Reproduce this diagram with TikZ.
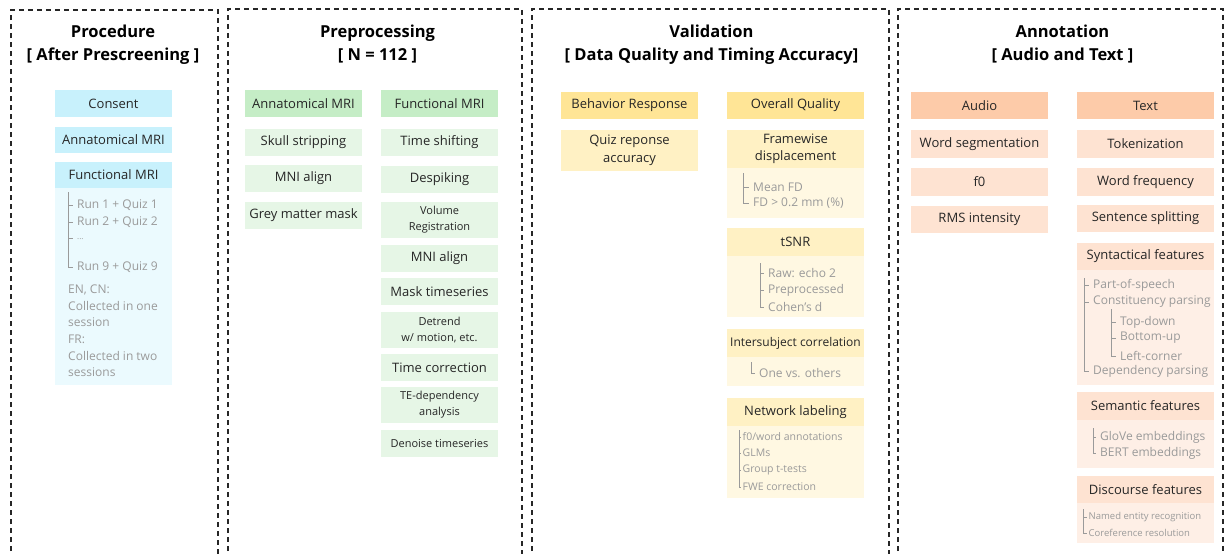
\documentclass[tikz,border=0pt]{standalone}
\usepackage{fontspec}
\setmainfont{Open Sans}
\usepackage{tikz}

\definecolor{bluehead}{HTML}{C8F1FC}
\definecolor{bluebody}{HTML}{EBFAFE}
\definecolor{greenhead}{HTML}{C5EDC6}
\definecolor{greenitem}{HTML}{E6F6E6}
\definecolor{yellowhead}{HTML}{FFE596}
\definecolor{yellowitem}{HTML}{FFF1C4}
\definecolor{yellowbody}{HTML}{FFF8E2}
\definecolor{orangehead}{HTML}{FDCBA9}
\definecolor{orangeitem}{HTML}{FEE3D2}
\definecolor{orangebody}{HTML}{FEEFE6}
\definecolor{subgrey}{HTML}{9A9A9A}

\begin{document}
\begin{tikzpicture}[x=1pt, y=-1pt,
			panel_style/.style={draw=black!85, line width=1.2pt, dash pattern=on 5pt off 4pt},
			title_style/.style={align=center, inner sep=0pt, font=\fontsize{16.5}{23}\selectfont\bfseries},
			box_style/.style={rectangle, inner sep=0pt, align=center, text=black!85, font=\fontsize{13}{17}\selectfont},
			narrow_box/.style={box_style, minimum width=117},
			wide_box/.style={box_style, minimum width=137},
			small_text/.style={font=\fontsize{11}{16}\selectfont},
			sub_item/.style={anchor=west, inner xsep=4pt, inner ysep=0pt, text=subgrey, font=\fontsize{12}{16}\selectfont},
			tiny_item/.style={sub_item, inner xsep=1.5pt, font=\fontsize{10.5}{14}\selectfont},
			tree_style/.style={draw=subgrey, line width=0.8pt}]
			\useasboundingbox (0,0) rectangle (1232,554);
			% dashed panels
			\draw[panel_style] (11,560) |- (218,10) -- (218,560);
			\draw[panel_style] (228,560) |- (522,9) -- (522,560);
			\draw[panel_style] (532,560) |- (889,9) -- (889,560);
			\draw[panel_style] (898,560) |- (1223,9) -- (1223,560);
			% titles
			\node[title_style] (t_proc) at (113,44.5) {Procedure\\{[} After Prescreening ]};
			\node[title_style] (t_prep) at (377.5,44.5) {Preprocessing\\{[} N = 112 ]};
			\node[title_style] (t_valid) at (711.5,44.5) {Validation\\{[} Data Quality and Timing Accuracy]};
			\node[title_style] (t_annot) at (1062.5,44.5) {Annotation\\{[} Audio and Text ]};
			% procedure
			\node[narrow_box, fill=bluehead, minimum height=27] (consent) at (113.5,103.5) {Consent};
			\node[narrow_box, fill=bluehead, minimum height=26] (anat1) at (113.5,140) {Annatomical MRI};
			\node[narrow_box, fill=bluehead, minimum height=26] (func1) at (113.5,175) {Functional MRI};
			\node[narrow_box, fill=bluebody, minimum height=197] (func1_body) at (113.5,286.5) {};
			\coordinate (run_top) at (68,192);
			\node[sub_item] (run1) at (73,205) {Run 1 + Quiz 1};
			\node[sub_item] (run2) at (73,222) {Run 2 + Quiz 2};
			\node[sub_item] (run_dots) at (73,238) {\fontsize{8}{8}\selectfont\raisebox{-3pt}{...}};
			\node[sub_item] (run9) at (73,267) {Run 9 + Quiz 9};
			\draw[tree_style] (run_top) |- (run9.west);
			\draw[tree_style] (run_top |- run1.west) -- (run1.west);
			\draw[tree_style] (run_top |- run2.west) -- (run2.west);
			\draw[tree_style] (run_top |- run_dots.west) -- (run_dots.west);
			\node[sub_item, inner xsep=0pt, align=left, font=\fontsize{12}{16.6}\selectfont] (lang) at (68,331) {EN, CN:\\Collected in one\\session\\FR:\\Collected in two\\sessions};
			% preprocessing
			\node[narrow_box, fill=greenhead, minimum height=27] (anat2) at (303.5,103.5) {Annatomical MRI};
			\node[narrow_box, fill=greenitem, minimum height=27] (skull) at (303.5,142.5) {Skull stripping};
			\node[narrow_box, fill=greenitem, minimum height=27] (mni_a) at (303.5,178.5) {MNI align};
			\node[narrow_box, fill=greenitem, minimum height=27] (grey) at (303.5,215.5) {Grey matter mask};
			\node[narrow_box, fill=greenhead, minimum height=27] (func2) at (439.5,103.5) {Functional MRI};
			\node[narrow_box, fill=greenitem, minimum height=27] (tshift) at (439.5,142.5) {Time shifting};
			\node[narrow_box, fill=greenitem, minimum height=27] (despike) at (439.5,179.5) {Despiking};
			\node[narrow_box, fill=greenitem, minimum height=36, small_text] (volreg) at (439.5,220) {Volume\\Registration};
			\node[narrow_box, fill=greenitem, minimum height=27] (mni_f) at (439.5,258.5) {MNI align};
			\node[narrow_box, fill=greenitem, minimum height=27] (mask) at (439.5,291.5) {Mask timeseries};
			\node[narrow_box, fill=greenitem, minimum height=36, small_text] (detrend) at (439.5,330) {Detrend\\w/ motion, etc.};
			\node[narrow_box, fill=greenitem, minimum height=27] (tcorr) at (439.5,367.5) {Time correction};
			\node[narrow_box, fill=greenitem, minimum height=36, small_text] (tedep) at (439.5,405) {TE-dependency\\analysis};
			\node[narrow_box, fill=greenitem, minimum height=27, small_text] (denoise) at (439.5,443.5) {Denoise timeseries};
			% validation
			\node[wide_box, fill=yellowhead, minimum height=27] (behav) at (629.5,105.5) {Behavior Response};
			\node[wide_box, fill=yellowitem, minimum height=41, font=\fontsize{13}{18}\selectfont] (quiz) at (629.5,150.5) {Quiz reponse\\accuracy};
			\node[wide_box, fill=yellowhead, minimum height=27] (overall) at (795.5,105.5) {Overall Quality};
			\node[wide_box, fill=yellowitem, minimum height=38, font=\fontsize{13}{16.5}\selectfont] (fd_head) at (795.5,149) {Framewise\\displacement};
			\node[wide_box, fill=yellowbody, minimum height=50] (fd_body) at (795.5,193) {};
			\coordinate (fd_top) at (743,173);
			\node[sub_item] (fd1) at (749,187) {Mean FD};
			\node[sub_item] (fd2) at (749,203) {FD > 0.2 mm (\%)};
			\draw[tree_style] (fd_top) |- (fd2.west);
			\draw[tree_style] (fd_top |- fd1.west) -- (fd1.west);
			\node[wide_box, fill=yellowitem, minimum height=28] (tsnr_head) at (795.5,242) {tSNR};
			\node[wide_box, fill=yellowbody, minimum height=61] (tsnr_body) at (795.5,286.5) {};
			\coordinate (tsnr_top) at (760,263);
			\node[sub_item] (tsnr1) at (764,273) {Raw: echo 2};
			\node[sub_item] (tsnr2) at (764,290) {Preprocessed};
			\node[sub_item] (tsnr3) at (764,307) {Cohen's d};
			\draw[tree_style] (tsnr_top) |- (tsnr3.west);
			\draw[tree_style] (tsnr_top |- tsnr1.west) -- (tsnr1.west);
			\draw[tree_style] (tsnr_top |- tsnr2.west) -- (tsnr2.west);
			\node[wide_box, fill=yellowitem, minimum height=28, font=\fontsize{12}{16}\selectfont] (isc_head) at (795.5,343) {Intersubject correlation};
			\node[wide_box, fill=yellowbody, minimum height=29] (isc_body) at (795.5,371.5) {};
			\coordinate (isc_top) at (751,362);
			\node[sub_item] (isc1) at (755,373) {One vs. others};
			\draw[tree_style] (isc_top) |- (isc1.west);
			\node[wide_box, fill=yellowitem, minimum height=28] (net_head) at (795.5,412) {Network labeling};
			\node[wide_box, fill=yellowbody, minimum height=72] (net_body) at (795.5,462) {};
			\coordinate (net_top) at (739,430);
			\node[tiny_item] (net1) at (741,437) {f0/word annotations};
			\node[tiny_item] (net2) at (741,453) {GLMs};
			\node[tiny_item] (net3) at (741,470) {Group t-tests};
			\node[tiny_item] (net4) at (741,487) {FWE correction};
			\draw[tree_style] (net_top) |- (net4.west);
			\draw[tree_style] (net_top |- net1.west) -- (net1.west);
			\draw[tree_style] (net_top |- net2.west) -- (net2.west);
			\draw[tree_style] (net_top |- net3.west) -- (net3.west);
			% annotation
			\node[wide_box, fill=orangehead, minimum height=27] (audio) at (979.5,105.5) {Audio};
			\node[wide_box, fill=orangeitem, minimum height=28] (wseg) at (979.5,144) {Word segmentation};
			\node[wide_box, fill=orangeitem, minimum height=28] (f0) at (979.5,182) {f0};
			\node[wide_box, fill=orangeitem, minimum height=27] (rms) at (979.5,219.5) {RMS intensity};
			\node[wide_box, fill=orangehead, minimum height=27] (text_h) at (1145.5,105.5) {Text};
			\node[wide_box, fill=orangeitem, minimum height=28] (token) at (1145.5,144) {Tokenization};
			\node[wide_box, fill=orangeitem, minimum height=28] (wfreq) at (1145.5,182) {Word frequency};
			\node[wide_box, fill=orangeitem, minimum height=27] (ssplit) at (1145.5,218.5) {Sentence splitting};
			\node[wide_box, fill=orangeitem, minimum height=27] (syn_head) at (1145.5,256.5) {Syntactical features};
			\node[wide_box, fill=orangebody, minimum height=115] (syn_body) at (1145.5,327.5) {};
			\coordinate (syn_top) at (1084,278);
			\node[sub_item] (pos) at (1089,285) {Part-of-speech};
			\node[sub_item] (const) at (1089,302) {Constituency parsing};
			\node[sub_item] (dep) at (1089,371) {Dependency parsing};
			\draw[tree_style] (syn_top) |- (dep.west);
			\draw[tree_style] (syn_top |- pos.west) -- (pos.west);
			\draw[tree_style] (syn_top |- const.west) -- (const.west);
			\coordinate (const_top) at (1111,309);
			\node[sub_item] (topdown) at (1116,322) {Top-down};
			\node[sub_item] (bottomup) at (1116,338) {Bottom-up};
			\node[sub_item] (leftcorner) at (1116,356) {Left-corner};
			\draw[tree_style] (const_top) |- (leftcorner.west);
			\draw[tree_style] (const_top |- topdown.west) -- (topdown.west);
			\draw[tree_style] (const_top |- bottomup.west) -- (bottomup.west);
			\node[wide_box, fill=orangeitem, minimum height=28] (sem_head) at (1145.5,406) {Semantic features};
			\node[wide_box, fill=orangebody, minimum height=48] (sem_body) at (1145.5,444) {};
			\coordinate (sem_top) at (1093,428);
			\node[sub_item] (glove) at (1096,437) {GloVe embeddings};
			\node[sub_item] (bert) at (1096,453) {BERT embeddings};
			\draw[tree_style] (sem_top) |- (bert.west);
			\draw[tree_style] (sem_top |- glove.west) -- (glove.west);
			\node[wide_box, fill=orangeitem, minimum height=27] (dis_head) at (1145.5,489.5) {Discourse features};
			\node[wide_box, fill=orangebody, minimum height=40] (dis_body) at (1145.5,523) {};
			\coordinate (dis_top) at (1083,509);
			\node[tiny_item, font=\fontsize{9.5}{13}\selectfont] (ner) at (1087,517) {Named entity recognition};
			\node[tiny_item, font=\fontsize{9.5}{13}\selectfont] (coref) at (1087,533) {Coreference resolution};
			\draw[tree_style] (dis_top) |- (coref.west);
			\draw[tree_style] (dis_top |- ner.west) -- (ner.west);
			\end{tikzpicture}
\end{document}
